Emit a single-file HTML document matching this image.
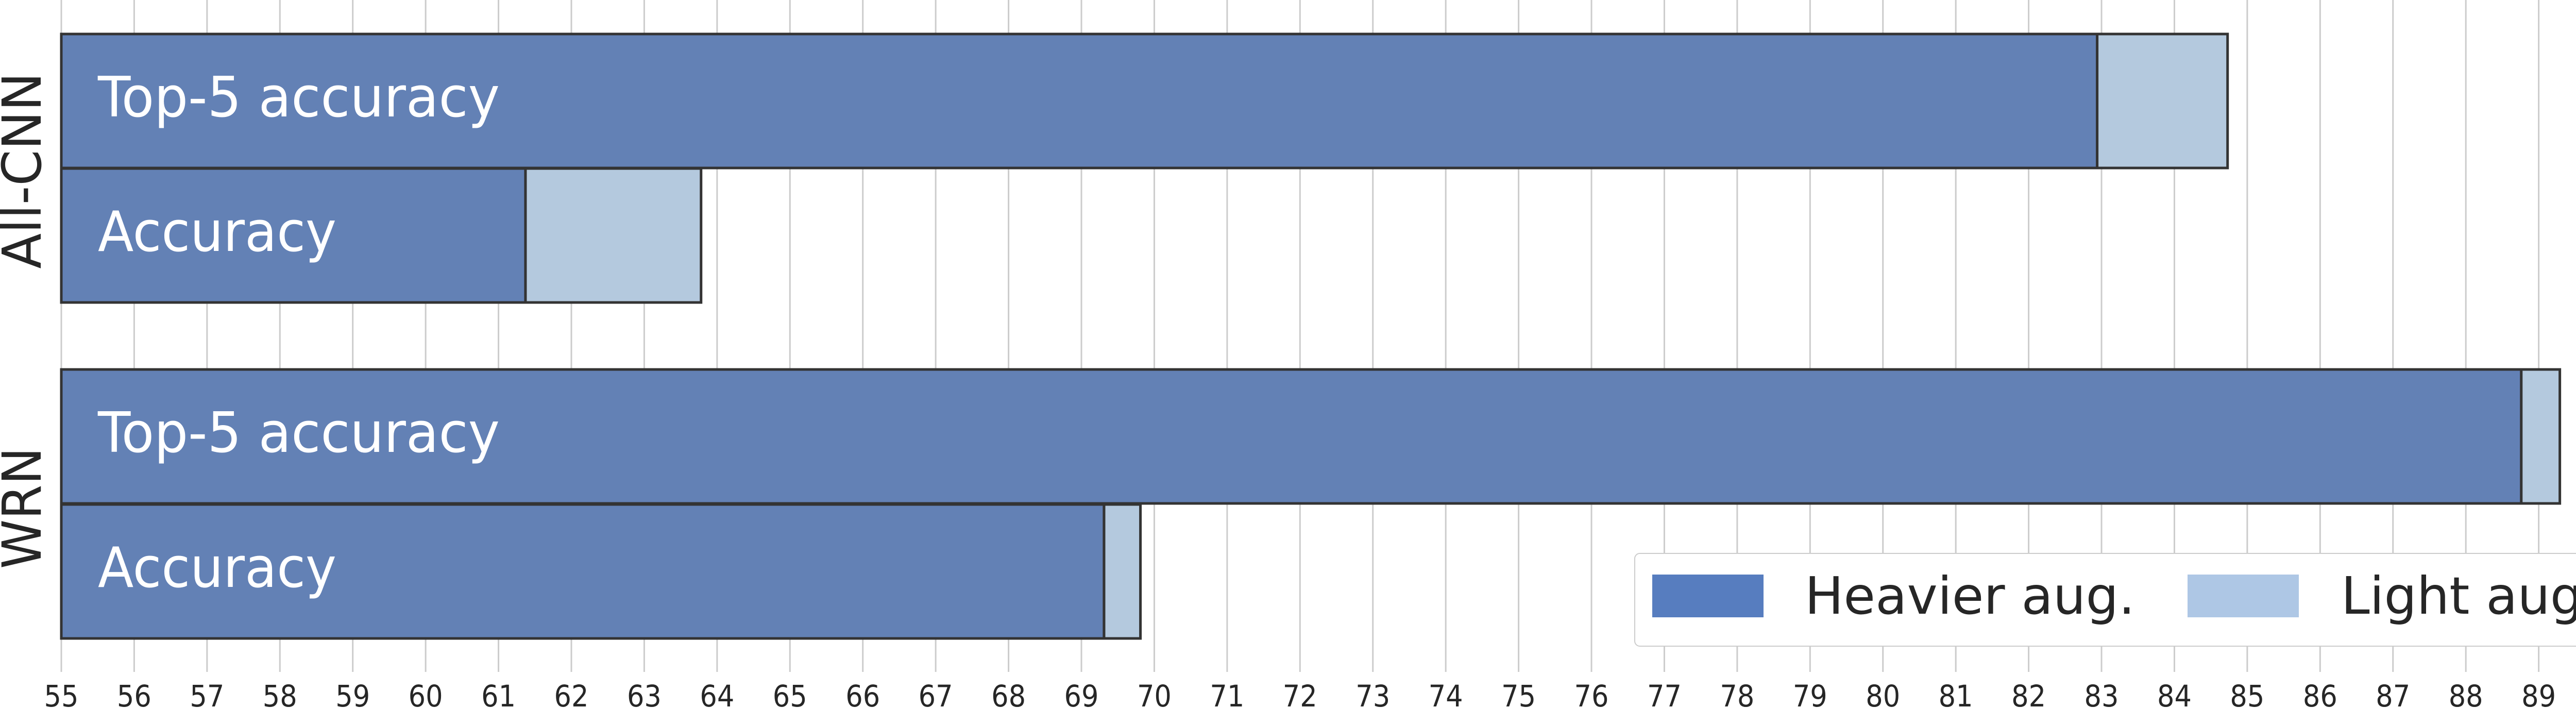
<!DOCTYPE html>
<html><head><meta charset="utf-8"><style>
html,body{margin:0;padding:0;background:#fff;}
svg{display:block;font-family:"DejaVu Sans","Liberation Sans",sans-serif;}
</style></head><body>
<svg id="chart" width="5105" height="1374" viewBox="0 0 5105 1374" xmlns="http://www.w3.org/2000/svg">
<g id="grid"></g>
<g id="bars"></g>
<g id="ticks"></g>
<text x="0" y="0" transform="translate(79,331) rotate(-90)" text-anchor="middle" font-size="104" textLength="381" lengthAdjust="spacingAndGlyphs" fill="#262626">All-CNN</text>
<text x="0" y="0" transform="translate(79,986) rotate(-90)" text-anchor="middle" font-size="104" textLength="236" lengthAdjust="spacingAndGlyphs" fill="#262626">WRN</text>
<g>
<rect x="3173" y="1074" width="1917" height="180" rx="10" fill="#fff" stroke="#cccccc" stroke-width="2"/>
<rect x="3207" y="1115" width="216" height="83" fill="#577dbf"/>
<text x="3503" y="1191" font-size="100" textLength="641" lengthAdjust="spacingAndGlyphs" fill="#262626">Heavier aug.</text>
<rect x="4246" y="1115" width="216" height="83" fill="#aec7e5"/>
<text x="4544" y="1191" font-size="100" textLength="501" lengthAdjust="spacingAndGlyphs" fill="#262626">Light aug.</text>
</g>
</svg>
<script>
const groups = ["All-CNN", "All-CNN", "WRN", "WRN"];
const barLabels = ["Top-5 accuracy", "Accuracy", "Top-5 accuracy", "Accuracy"];
const heavierValues = [82.94, 61.37, 88.76, 69.31];
const lightValues = [84.73, 63.78, 89.29, 69.81];
const tickValues = [55,56,57,58,59,60,61,62,63,64,65,66,67,68,69,70,71,72,73,74,75,76,77,78,79,80,81,82,83,84,85,86,87,88,89,90];

const NS = "http://www.w3.org/2000/svg";
const X0 = 119, XU = 141.43, XMIN = 55;
function xScale(v){ return X0 + (v - XMIN) * XU; }
const barTops = [66, 327, 717, 979];
const barH = 260;

const grid = document.getElementById('grid');
const ticks = document.getElementById('ticks');
tickValues.forEach(function(t){
  const l = document.createElementNS(NS, 'line');
  
  
  l.setAttribute('x1', xScale(t)); l.setAttribute('x2', xScale(t));
  l.setAttribute('y1', 0); l.setAttribute('y2', 1304);
  l.setAttribute('stroke', '#cccccc'); l.setAttribute('stroke-width', 3);
  grid.appendChild(l);
  const tx = document.createElementNS(NS, 'text');
  
  
  tx.setAttribute('x', xScale(t)); tx.setAttribute('y', 1371);
  tx.setAttribute('text-anchor', 'middle');
  tx.setAttribute('font-size', '58'); tx.setAttribute('fill', '#262626');
  tx.setAttribute('textLength', '67'); tx.setAttribute('lengthAdjust', 'spacingAndGlyphs');
  tx.textContent = String(t);
  ticks.appendChild(tx);
});

const labelWidths = [780, 463, 780, 463];
const bars = document.getElementById('bars');
heavierValues.forEach(function(v, i){
  const y = barTops[i];
  const lt = document.createElementNS(NS, 'rect');
  
  
  lt.setAttribute('x', xScale(v)); lt.setAttribute('y', y);
  lt.setAttribute('width', xScale(lightValues[i]) - xScale(v)); lt.setAttribute('height', barH);
  lt.setAttribute('fill', '#b4c9de'); lt.setAttribute('stroke', '#333333'); lt.setAttribute('stroke-width', 5);
  bars.appendChild(lt);
  const hv = document.createElementNS(NS, 'rect');
  
  
  hv.setAttribute('x', xScale(XMIN)); hv.setAttribute('y', y);
  hv.setAttribute('width', xScale(v) - xScale(XMIN)); hv.setAttribute('height', barH);
  hv.setAttribute('fill', '#6381b5'); hv.setAttribute('stroke', '#333333'); hv.setAttribute('stroke-width', 5);
  bars.appendChild(hv);
  const lb = document.createElementNS(NS, 'text');
  
  
  lb.setAttribute('x', 190); lb.setAttribute('y', y + 160);
  lb.setAttribute('font-size', '108'); lb.setAttribute('fill', '#ffffff');
  lb.setAttribute('textLength', labelWidths[i]); lb.setAttribute('lengthAdjust', 'spacingAndGlyphs');
  lb.textContent = barLabels[i];
  bars.appendChild(lb);
});
</script>
</body></html>
